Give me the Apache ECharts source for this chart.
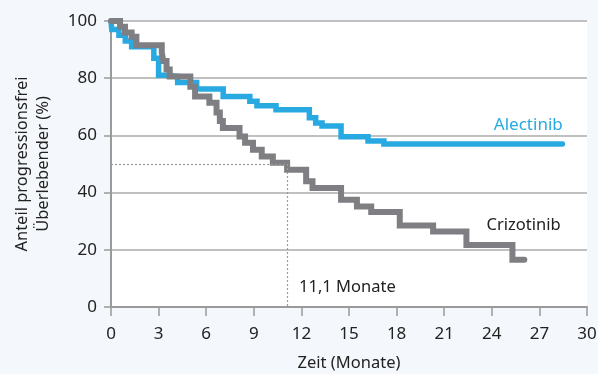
<!DOCTYPE html>
<html>
<head>
<meta charset="utf-8">
<script src="https://cdn.jsdelivr.net/npm/echarts@6/dist/echarts.min.js"></script>
<style>
html,body{margin:0;padding:0;background:#f4f7fb;}
#c{width:598px;height:374px;}
</style>
</head>
<body>
<div id="c"></div>
<script>
// Kaplan-Meier step data (months, % progression-free)
var alecTime   = [0, 0.05, 0.5, 0.9, 1.3, 2.7, 3.0, 3.4, 4.2, 5.4, 7.07, 8.75, 9.2, 10.4, 12.5, 12.9, 13.3, 14.5, 16.2, 17.2, 28.45];
var alecValues = [100, 97, 95, 93, 91, 87, 81, 80.7, 78.5, 76.2, 73.6, 71.9, 70.4, 69, 66.2, 64.3, 63.3, 59.5, 58, 57, 57];
var crizTime   = [0, 0.57, 0.88, 1.3, 1.6, 3.2, 3.3, 3.5, 3.7, 5.0, 5.3, 6.2, 6.65, 6.86, 7.05, 8.1, 8.45, 8.95, 9.5, 10.2, 11.1, 12.3, 12.7, 14.5, 15.5, 16.4, 18.2, 20.3, 22.4, 25.3, 26.05];
var crizValues = [100, 98, 96, 94.5, 91.5, 89, 86, 83, 80.6, 77, 73.6, 71.4, 68, 65, 62.6, 59.6, 57.4, 55, 52.6, 50.4, 48, 44, 41.6, 37.5, 35.1, 33.2, 28.5, 26.4, 21.7, 16.5, 16.5];
var xTicks = [0, 3, 6, 9, 12, 15, 18, 21, 24, 27, 30];
var yTicks = [0, 20, 40, 60, 80, 100];
var medianTime = 11.1;
var medianLabel = '11,1 Monate';
var seriesNames = ['Alectinib', 'Crizotinib'];
var xTitle = 'Zeit (Monate)';
var yTitle = 'Anteil progressionsfrei\nÜberlebender (%)';

function pairs(t, v) { return t.map(function (x, i) { return [x, v[i]]; }); }

var FONT = '"Noto Sans", sans-serif';
var chart = echarts.init(document.getElementById('c'));
chart.setOption({
  backgroundColor: '#f4f7fb',
  animation: false,
  grid: { left: 111, right: 11, top: 21, bottom: 67, show: true, backgroundColor: '#ffffff', borderWidth: 0, containLabel: false, outerBoundsMode: 'none' },
  xAxis: {
    type: 'value', min: 0, max: 30, interval: 3,
    name: xTitle, nameLocation: 'middle', nameGap: 48,
    nameTextStyle: { fontFamily: FONT, fontSize: 16.5, color: '#222' },
    axisLine: { show: true, lineStyle: { color: '#9a9a9a', width: 2 } },
    axisTick: { show: true, length: 9, lineStyle: { color: '#9a9a9a', width: 1.5 } },
    axisLabel: { margin: 19, fontFamily: FONT, fontSize: 17, color: '#222' },
    splitLine: { show: false }
  },
  yAxis: {
    type: 'value', min: 0, max: 100, interval: 20,
    name: yTitle, nameLocation: 'middle', nameGap: 57, nameRotate: 90,
    nameTextStyle: { fontFamily: FONT, fontSize: 16.5, color: '#222', lineHeight: 21 },
    axisLine: { show: true, lineStyle: { color: '#9a9a9a', width: 2 } },
    axisTick: { show: true, length: 7, lineStyle: { color: '#9a9a9a', width: 1.5 } },
    axisLabel: { margin: 14, fontFamily: FONT, fontSize: 17, color: '#222' },
    splitLine: { show: true, lineStyle: { color: '#ababab', width: 1.5 } }
  },
  series: [
    {
      name: seriesNames[0], type: 'line', step: 'end', showSymbol: false, symbol: 'none',
      data: pairs(alecTime, alecValues),
      lineStyle: { color: '#29a9e1', width: 5.5, cap: 'round', join: 'miter' },
      z: 3,
      markPoint: {
        symbol: 'circle', symbolSize: 1, itemStyle: { color: 'rgba(0,0,0,0)' },
        data: [{ coord: [26.3, 63.5], value: 1 }],
        label: { show: true, position: 'inside', formatter: seriesNames[0], fontFamily: FONT, fontSize: 17, color: '#29a9e1' }
      }
    },
    {
      name: seriesNames[1], type: 'line', step: 'end', showSymbol: false, symbol: 'none',
      data: pairs(crizTime, crizValues),
      lineStyle: { color: '#7f7f83', width: 6, cap: 'round', join: 'miter' },
      z: 4,
      markPoint: {
        symbol: 'circle', symbolSize: 1, itemStyle: { color: 'rgba(0,0,0,0)' },
        data: [
          { coord: [26.0, 28.4], value: 1, label: { formatter: seriesNames[1] } },
          { coord: [14.9, 7], value: 2, label: { formatter: medianLabel } }
        ],
        label: { show: true, position: 'inside', fontFamily: FONT, fontSize: 16.5, color: '#222' }
      },
      markLine: {
        silent: true, symbol: 'none', animation: false,
        lineStyle: { color: '#9a9a9a', type: [2, 2], width: 1.2 },
        label: { show: false },
        data: [
          [{ coord: [0, 50] }, { coord: [medianTime, 50] }],
          [{ coord: [medianTime, 50] }, { coord: [medianTime, 0] }]
        ]
      }
    }
  ]
});
</script>
</body>
</html>
